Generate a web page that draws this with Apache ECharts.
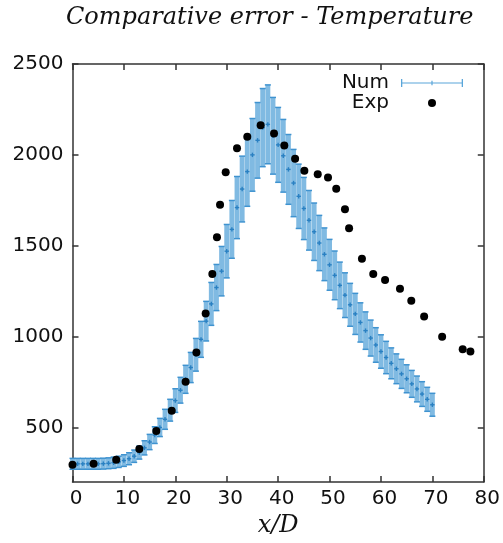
<!DOCTYPE html>
<html><head><meta charset="utf-8">
<script src="https://cdn.jsdelivr.net/npm/echarts@6/dist/echarts.min.js"></script>
<style>html,body{margin:0;padding:0;background:#fff}#c{width:503px;height:543px}</style>
</head><body><div id="c"></div>
<script>
// Numerical solution (x/D, temperature, half error bar)
const numX = [0,1,2,3,4,5,6,7,8,9,10,11,12,13,14,15,16,17,18,19,20,21,22,23,24,25,26,27,28,29,30,31,32,33,34,35,36,37,38,39,40,41,42,43,44,45,46,47,48,49,50,51,52,53,54,55,56,57,58,59,60,61,62,63,64,65,66,67,68,69,70];
const numY = [300,300,300,300,300,300,301,303,306,311,318,328,342,362,388,420,458,500,545,595,648,705,765,830,900,985,1085,1180,1270,1360,1470,1590,1710,1812,1908,2000,2080,2150,2168,2105,2055,1995,1920,1845,1772,1705,1640,1577,1515,1453,1395,1337,1282,1228,1175,1125,1078,1033,992,954,918,885,853,823,795,768,740,712,684,655,625];
const numErr = [30,30,30,30,30,30,30,30,31,31,32,33,34,36,39,42,46,50,55,60,65,71,77,83,90,99,109,118,127,136,147,159,171,181,191,200,208,215,217,211,206,200,192,185,177,171,164,158,152,145,140,134,128,123,118,113,108,103,99,95,92,89,85,82,80,77,74,71,68,66,63];
// Experimental points
const expX = [0,4.1,8.5,13.0,16.3,19.3,22.0,24.1,25.9,27.2,28.1,28.7,29.8,32.0,34.0,36.6,39.2,41.2,43.3,45.1,47.7,49.7,51.3,53.0,53.8,56.3,58.5,60.8,63.7,65.9,68.4,71.9,75.9,77.4];
const expY = [295,300,322,381,480,592,751,912,1127,1344,1547,1726,1904,2036,2100,2163,2117,2051,1979,1913,1893,1875,1813,1701,1596,1429,1344,1312,1263,1197,1110,999,931,918];
const xTicks = [0,10,20,30,40,50,60,70,80];
const yTicks = [500,1000,1500,2000,2500];

const numData = numX.map((x, i) => [x, numY[i], numErr[i]]);
const expData = expX.map((x, i) => [x, expY[i]]);

const axisCol = '#333333';
const bandCol = '#80bae2';
const capCol = '#3f93d0';
const ctrCol = '#2a80c2';

const chart = echarts.init(document.getElementById('c'), null, {renderer: 'canvas'});

function bandItem(params, api) {
  const x = api.value(0), y = api.value(1), e = api.value(2);
  const hi = api.coord([x, y + e]);
  const lo = api.coord([x, y - e]);
  const w = 4.9;
  return {type: 'rect', shape: {x: hi[0] - w / 2, y: hi[1], width: w, height: lo[1] - hi[1]},
          style: {fill: bandCol}};
}
function capItem(params, api) {
  const x = api.value(0), y = api.value(1), e = api.value(2);
  const c = api.coord([x, y]);
  const hi = api.coord([x, y + e]);
  const lo = api.coord([x, y - e]);
  const cw = 3, m = 2.2;
  return {type: 'group', children: [
    {type: 'line', shape: {x1: c[0] - cw, y1: hi[1], x2: c[0] + cw, y2: hi[1]}, style: {stroke: capCol, lineWidth: 1.5}},
    {type: 'line', shape: {x1: c[0] - cw, y1: lo[1], x2: c[0] + cw, y2: lo[1]}, style: {stroke: capCol, lineWidth: 1.5}},
    {type: 'line', shape: {x1: c[0] - m, y1: c[1], x2: c[0] + m, y2: c[1]}, style: {stroke: ctrCol, lineWidth: 1.4}},
    {type: 'line', shape: {x1: c[0], y1: c[1] - m, x2: c[0], y2: c[1] + m}, style: {stroke: ctrCol, lineWidth: 1.4}}
  ]};
}

const numIcon = 'path://M0,0H1.3V8H0Z M0,3.4H62V4.6H0Z M60.7,0H62V8H60.7Z M30.4,1.8H31.6V6.2H30.4Z';

chart.setOption({
  animation: false,
  backgroundColor: '#fff',
  title: {
    text: 'Comparative error - Temperature',
    left: 66, top: 6, padding: 0,
    textStyle: {fontFamily: 'DejaVu Serif', fontStyle: 'italic', fontWeight: 'normal', fontSize: 24, color: '#111'}
  },
  legend: {
    orient: 'vertical', right: 40, top: 73, padding: 0, align: 'right',
    itemWidth: 62, itemHeight: 8, itemGap: 0,
    textStyle: {fontFamily: 'DejaVu Sans', fontSize: 20, color: '#111', padding: [0, 7, 0, 0]},
    data: [
      {name: 'Num', icon: numIcon, itemStyle: {color: '#5aa6da', opacity: 1}},
      {name: 'Exp', icon: 'circle', itemStyle: {color: '#000', opacity: 1}}
    ]
  },
  grid: {left: 72.5, right: 19, top: 64, bottom: 60, containLabel: false},
  xAxis: [{
    type: 'value', min: 0, max: 80, interval: 10, position: 'bottom',
    name: 'x/D', nameLocation: 'middle', nameGap: 32,
    nameTextStyle: {fontFamily: 'DejaVu Serif', fontStyle: 'italic', fontSize: 24, color: '#111'},
    axisLine: {onZero: false, lineStyle: {color: axisCol, width: 1.5}},
    axisTick: {inside: true, length: 6, lineStyle: {color: axisCol, width: 1.5}},
    axisLabel: {customValues: xTicks, margin: 7, fontFamily: 'DejaVu Sans', fontSize: 20, color: '#111', padding: [0, 0, 0, 7],
                formatter: v => String(v)},
    splitLine: {show: false}
  }, {
    type: 'value', min: 0, max: 80, interval: 10, position: 'top',
    axisLine: {onZero: false, lineStyle: {color: axisCol, width: 1.5}},
    axisTick: {inside: true, length: 6, lineStyle: {color: axisCol, width: 1.5}},
    axisLabel: {show: false}, splitLine: {show: false}
  }],
  yAxis: [{
    type: 'value', min: 200, max: 2500, position: 'left',
    axisLine: {show: true, onZero: false, lineStyle: {color: axisCol, width: 1.5}},
    axisTick: {show: true, inside: true, length: 6, customValues: yTicks, lineStyle: {color: axisCol, width: 1.5}},
    axisLabel: {customValues: yTicks, margin: 9, fontFamily: 'DejaVu Sans', fontSize: 20, color: '#111',
                formatter: v => String(v)},
    splitLine: {show: false}
  }, {
    type: 'value', min: 200, max: 2500, position: 'right',
    axisLine: {show: true, onZero: false, lineStyle: {color: axisCol, width: 1.5}},
    axisTick: {show: true, inside: true, length: 6, customValues: yTicks, lineStyle: {color: axisCol, width: 1.5}},
    axisLabel: {show: false}, splitLine: {show: false}
  }],
  series: [
    {name: 'Num', type: 'custom', xAxisIndex: 0, yAxisIndex: 0, renderItem: bandItem, data: numData, z: 2,
     itemStyle: {color: '#5aa6da'}, encode: {x: 0, y: 1}},
    {name: 'Num', type: 'custom', xAxisIndex: 0, yAxisIndex: 0, renderItem: capItem, data: numData, z: 3,
     itemStyle: {color: '#5aa6da'}, encode: {x: 0, y: 1}},
    {name: 'Exp', type: 'scatter', xAxisIndex: 0, yAxisIndex: 0, data: expData, symbol: 'circle', symbolSize: 8,
     itemStyle: {color: '#000', opacity: 1}, z: 5}
  ]
});
</script>
</body></html>
